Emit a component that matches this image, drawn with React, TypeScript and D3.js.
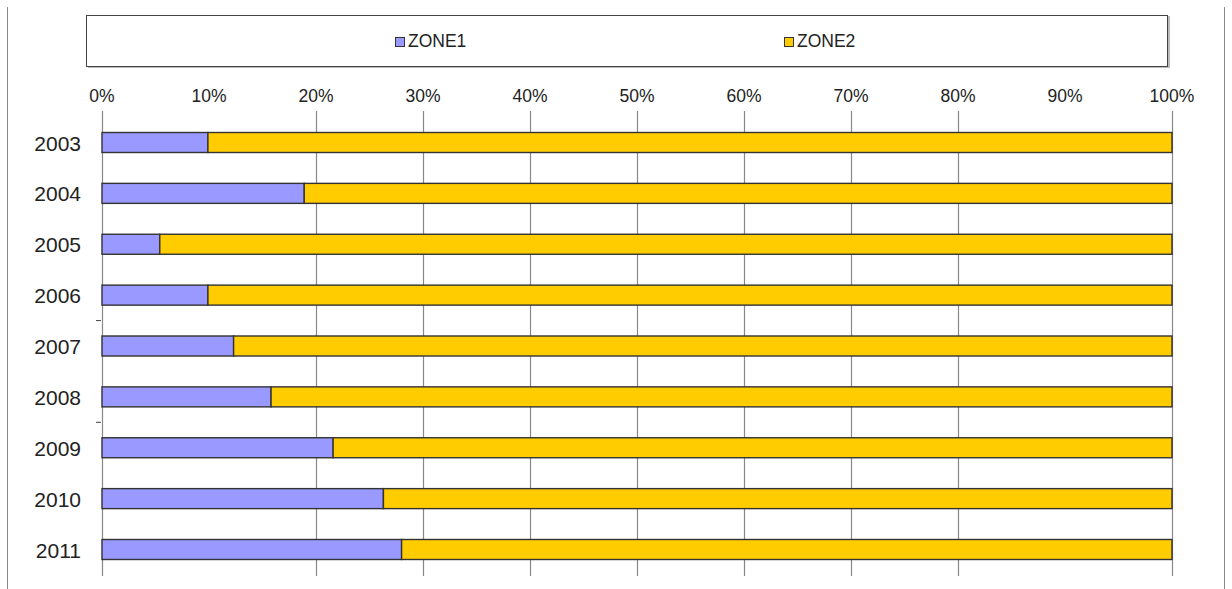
import React, { useEffect, useRef } from 'react';
import * as d3 from 'd3';

const years = ['2003', '2004', '2005', '2006', '2007', '2008', '2009', '2010', '2011'];
const zone1 = [9.9, 18.9, 5.4, 9.9, 12.3, 15.8, 21.6, 26.3, 28.0];
const zone2 = zone1.map((v) => 100 - v);
const seriesNames = ['ZONE1', 'ZONE2'];
const seriesColors = ['#9999FF', '#FFCC00'];
const xTicks = [0, 10, 20, 30, 40, 50, 60, 70, 80, 90, 100];
const gridTicks = [0, 20, 30, 40, 50, 60, 70, 80, 100];
// stray category tick marks visible on the left axis (after these indexes)
const strayTicksAfter = [3, 5];

const W = 1232;
const H = 589;

const App = () => {
  const ref = useRef<SVGSVGElement | null>(null);

  useEffect(() => {
    const svg = d3.select(ref.current);
    svg.selectAll('*').remove();

    const font = 'Liberation Sans, Arial, sans-serif';

    // outer frame lines
    svg.append('line').attr('x1', 7.5).attr('x2', 7.5).attr('y1', 7).attr('y2', H)
      .attr('stroke', '#888').attr('stroke-width', 1);
    svg.append('line').attr('x1', 1224.5).attr('x2', 1224.5).attr('y1', 7).attr('y2', H)
      .attr('stroke', '#888').attr('stroke-width', 1);

    const x = d3.scaleLinear().domain([0, 100]).range([102, 1172]);
    const y = d3.scalePoint<string>().domain(years).range([142.5, 549.5]);
    const barH = 20;

    // legend box
    svg.append('rect').attr('x', 88).attr('y', 16).attr('width', 1082).attr('height', 52)
      .attr('fill', '#bbb');
    svg.append('rect').attr('x', 86.5).attr('y', 15.5).attr('width', 1081).attr('height', 51)
      .attr('fill', '#fff').attr('stroke', '#444').attr('stroke-width', 1);

    const legendX = [395, 784];
    seriesNames.forEach((name, i) => {
      svg.append('rect').attr('x', legendX[i] + 0.5).attr('y', 37.5).attr('width', 9).attr('height', 9)
        .attr('fill', seriesColors[i]).attr('stroke', '#333').attr('stroke-width', 1);
      svg.append('text').attr('x', legendX[i] + 13).attr('y', 47)
        .attr('font-family', font).attr('font-size', 17.5).attr('fill', '#222')
        .text(name);
    });

    // grid lines
    svg.append('g').selectAll('line').data(gridTicks).enter().append('line')
      .attr('x1', (d) => Math.round(x(d)) + 0.5).attr('x2', (d) => Math.round(x(d)) + 0.5)
      .attr('y1', 111).attr('y2', 576)
      .attr('stroke', '#888').attr('stroke-width', 1.2);

    // x tick labels
    svg.append('g').selectAll('text').data(xTicks).enter().append('text')
      .attr('x', (d) => x(d)).attr('y', 102)
      .attr('text-anchor', 'middle')
      .attr('font-family', font).attr('font-size', 17.5).attr('fill', '#222')
      .text((d) => `${d}%`);

    // stray axis ticks
    svg.append('g').selectAll('line').data(strayTicksAfter).enter().append('line')
      .attr('x1', 96).attr('x2', 101)
      .attr('y1', (i) => ((y(years[i]) as number) + (y(years[i + 1]) as number)) / 2)
      .attr('y2', (i) => ((y(years[i]) as number) + (y(years[i + 1]) as number)) / 2)
      .attr('stroke', '#444').attr('stroke-width', 1);

    // bars
    const stack = years.map((yr, i) => ({ yr, a: zone1[i], b: zone2[i] }));
    const rows = svg.append('g').selectAll('g').data(stack).enter().append('g');
    rows.append('rect')
      .attr('x', x(0)).attr('y', (d) => (y(d.yr) as number) - barH / 2)
      .attr('width', (d) => x(d.a) - x(0)).attr('height', barH)
      .attr('fill', seriesColors[0]).attr('stroke', '#333').attr('stroke-width', 1.4);
    rows.append('rect')
      .attr('x', (d) => x(d.a)).attr('y', (d) => (y(d.yr) as number) - barH / 2)
      .attr('width', (d) => x(d.a + d.b) - x(d.a)).attr('height', barH)
      .attr('fill', seriesColors[1]).attr('stroke', '#333').attr('stroke-width', 1.4);

    // year labels
    svg.append('g').selectAll('text').data(years).enter().append('text')
      .attr('x', 81).attr('y', (d) => (y(d) as number) + 8)
      .attr('text-anchor', 'end')
      .attr('font-family', font).attr('font-size', 21).attr('fill', '#222')
      .text((d) => d);
  }, []);

  return (
    <svg ref={ref} width={W} height={H}
      style={{ position: 'absolute', left: 0, top: 0, background: '#fff' }} />
  );
};

export default App;
